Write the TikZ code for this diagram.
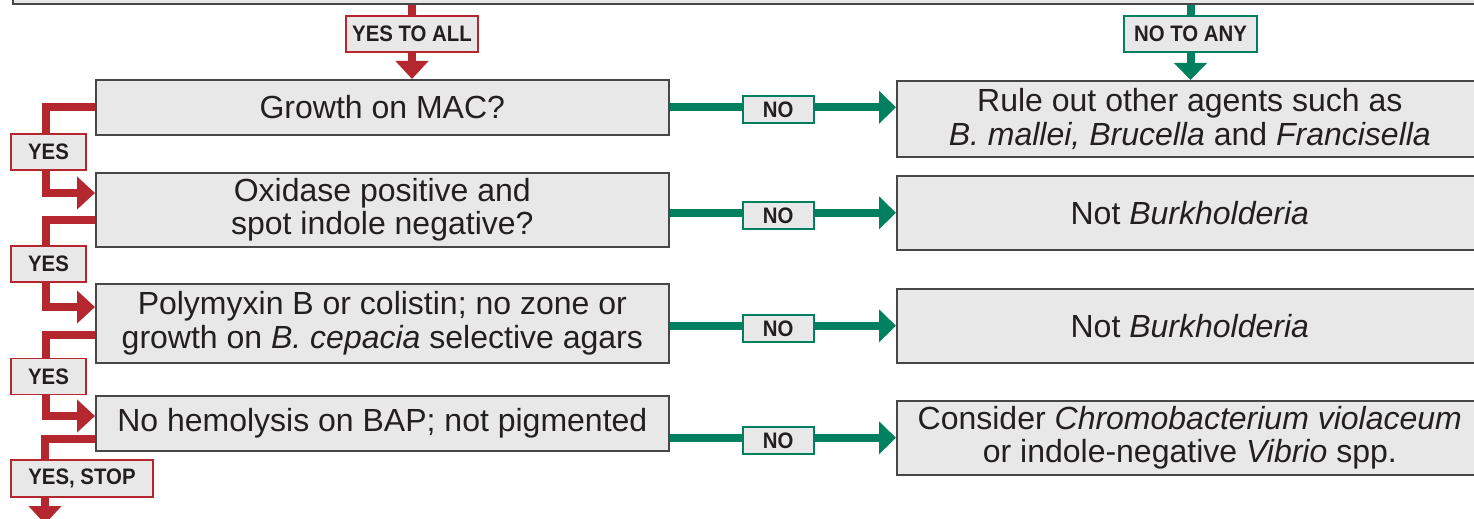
\documentclass[tikz,border=0pt]{standalone}
\usepackage{fontspec}
\setmainfont{Liberation Sans}
\newfontfamily\lblfont[FakeStretch=0.91]{Liberation Sans}
\usetikzlibrary{arrows.meta,backgrounds}
\definecolor{cred}{HTML}{B5272F}
\definecolor{cgreen}{HTML}{00805E}
\definecolor{cfill}{HTML}{E8E8E8}
\definecolor{cborder}{HTML}{474747}
\definecolor{ctext}{HTML}{231F20}
\begin{document}
\begin{tikzpicture}[x=0.5pt,y=-0.5pt,
 box/.style={draw=cborder, fill=cfill, line width=0.8pt, inner sep=0pt, anchor=north west,
   minimum width=286.5pt, align=center, text=ctext, font=\fontsize{16}{16.8}\selectfont},
 rbox/.style={box, minimum width=293pt, minimum height=37pt},
 lbl/.style={fill=cfill, line width=0.8pt, inner sep=0pt, minimum height=18pt, text=ctext,
   font=\lblfont\fontsize{11.2}{12}\bfseries},
 ylbl/.style={lbl, draw=cred},
 glbl/.style={lbl, draw=cgreen},
 nlbl/.style={glbl, minimum width=35.5pt, minimum height=13.5pt, yshift=-1.25pt},
 rline/.style={draw=cred, line width=4pt},
 rarrow/.style={rline, -{Triangle[length=9pt,width=16pt]}},
 gline/.style={draw=cgreen, line width=4pt},
 garrow/.style={gline, -{Triangle[length=8.5pt,width=16pt]}},
]
\useasboundingbox (0,0) rectangle (1474,519);
% boxes
\node[box, anchor=south west, minimum width=750pt, minimum height=30pt] (top) at (12,5) {};
\node[box, minimum height=27.5pt] (B1) at (95,79) {Growth on MAC?};
\node[box, minimum height=37pt] (B2) at (95,172) {Oxidase positive and\\spot indole negative?};
\node[box, minimum height=39.5pt] (B3) at (95,283) {Polymyxin B or colistin; no zone or\\growth on \textit{B. cepacia} selective agars};
\node[box, minimum height=27.5pt] (B4) at (95,395) {No hemolysis on BAP; not pigmented};
\node[rbox, minimum height=38pt] (R1) at (896,80) {Rule out other agents such as\\\textit{B. mallei, Brucella} and \textit{Francisella}};
\node[rbox] (R2) at (896,175) {Not \textit{Burkholderia}};
\node[rbox] (R3) at (896,288) {Not \textit{Burkholderia}};
\node[rbox] (R4) at (896,400) {Consider \textit{Chromobacterium violaceum}\\or indole-negative \textit{Vibrio} spp.};
% labels
\node[ylbl, minimum width=66pt] (YTA) at (412,34) {YES TO ALL};
\node[glbl, minimum width=66.5pt] (NTA) at (1190.5,34) {NO TO ANY};
\node[ylbl, minimum width=37.5pt] (Y1) at (48.5,152) {YES};
\node[ylbl, minimum width=37.5pt] (Y2) at (48.5,264) {YES};
\node[ylbl, minimum width=37.5pt] (Y3) at (48.5,376.5) {YES};
\node[ylbl, minimum width=71pt, minimum height=18.5pt] (YS) at (82,478.5) {YES, STOP};
\coordinate (lx) at (46,0);
\coordinate (lx2) at (45,0);
\coordinate (bot) at (45,524);
% connectors
\begin{scope}[on background layer]
\fill[white] (0,0) rectangle (1474,519);
\draw[rline] (YTA.north) -- (YTA.north |- top.south);
\draw[rarrow] (YTA.south) -- (YTA.south |- B1.north);
\draw[gline] (NTA.north) -- (NTA.north |- top.south);
\draw[garrow] (NTA.south) -- (NTA.south |- R1.north);
\draw[rline] (B1.west) -| (Y1.north -| lx);
\draw[rarrow] (Y1.south -| lx) |- (B2.west |- 0,193);
\draw[rline] (B2.west |- 0,220) -| (Y2.north -| lx);
\draw[rarrow] (Y2.south -| lx) |- (B3.west |- 0,307);
\draw[rline] (B3.west |- 0,335) -| (Y3.north -| lx);
\draw[rarrow] (Y3.south -| lx) |- (B4.west |- 0,416);
\draw[rline] (B4.west |- 0,439) -| (YS.north -| lx2);
\draw[rarrow] (YS.south -| lx2) -- (bot);
\draw[garrow] (B1.east) -- node[nlbl, pos=0.48] (N1) {NO} (B1.east -| R1.west);
\draw[garrow] (R2.west -| B2.east) -- node[nlbl, pos=0.48] (N2) {NO} (R2.west);
\draw[garrow] (R3.west -| B3.east) -- node[nlbl, pos=0.48] (N3) {NO} (R3.west);
\draw[garrow] (R4.west -| B4.east) -- node[nlbl, pos=0.48] (N4) {NO} (R4.west);
\end{scope}
\end{tikzpicture}
\end{document}
